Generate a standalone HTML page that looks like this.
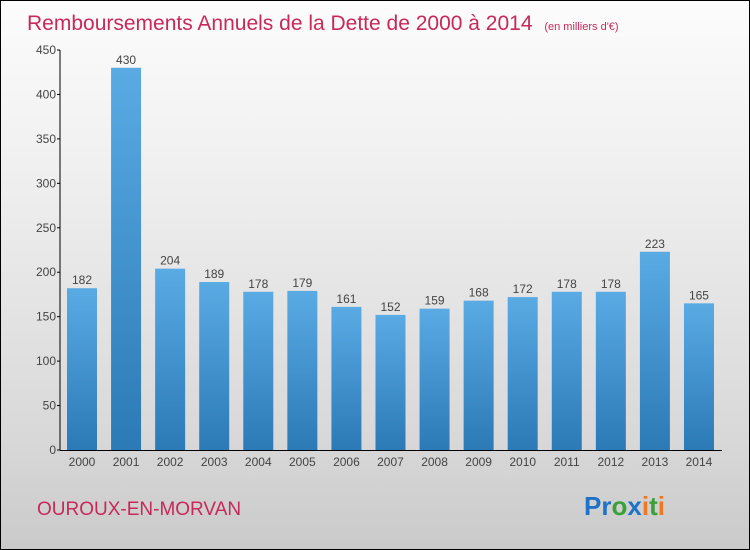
<!DOCTYPE html>
<html><head><meta charset="utf-8"><style>
body{margin:0}
#c{position:relative;width:748px;height:548px;border:1px solid #000;background:linear-gradient(#fcfcfc,#f0f0f0 30%,#d8d8d8 80%,#cacaca);font-family:"Liberation Sans",sans-serif;overflow:hidden}
</style></head><body>
<div id="c">
<svg id="s" width="748" height="548">
<defs><linearGradient id="g" x1="0" y1="0" x2="0" y2="1"><stop offset="0" stop-color="#5aaae4"/><stop offset="1" stop-color="#2b7ab6"/></linearGradient></defs>
<text x="26" y="29" font-size="21" fill="#c8285a" style="font-weight:300">Remboursements Annuels de la Dette de 2000 à 2014 <tspan font-size="11" dx="6">(en milliers d'€)</tspan></text>
<text x="36" y="514" font-size="19" fill="#c8285a">OUROUX-EN-MORVAN</text>
<text x="583" y="514" font-size="26" font-weight="bold"><tspan fill="#1e73c8">Pr</tspan><tspan fill="#3aa03a">o</tspan><tspan fill="#1e73c8">x</tspan><tspan fill="#f07820">i</tspan><tspan fill="#3aa03a">t</tspan><tspan fill="#f07820">i</tspan></text>
<g id="plot"></g>
</svg>
</div>
<script>
const years=["2000","2001","2002","2003","2004","2005","2006","2007","2008","2009","2010","2011","2012","2013","2014"];
const values=[182,430,204,189,178,179,161,152,159,168,172,178,178,223,165];
const ticks=[0,50,100,150,200,250,300,350,400,450];
const NS="http://www.w3.org/2000/svg";
const g=document.getElementById('plot');
const y0=449,yTop=49,maxV=450,x0=59,step=44.07,bw=30,first=66;
const Y=v=>y0-(v/maxV)*(y0-yTop);
const X=i=>first+i*step;
function mk(t,a){const e=document.createElementNS(NS,t);for(const k in a)e.setAttribute(k,a[k]);g.appendChild(e);return e;}
ticks.forEach(t=>{
 const l=mk('line',{x1:x0-3,x2:x0,y1:Y(t),y2:Y(t),stroke:'#000'});
 
 
 const tx=mk('text',{x:x0-4,y:Y(t)+4,'font-size':12,fill:'#444','text-anchor':'end'});
 tx.textContent=t;
 
 
});
values.forEach((v,i)=>{
 const r=mk('rect',{x:X(i),y:Y(v),width:bw,height:y0-Y(v),fill:'url(#g)'});
 
 
 const t=mk('text',{x:X(i)+bw/2,y:Y(v)-4,'font-size':12,fill:'#444','text-anchor':'middle'});
 t.textContent=v;
 
 
 const xl=mk('text',{x:X(i)+bw/2,y:y0+16,'font-size':12,fill:'#444','text-anchor':'middle'});
 xl.textContent=years[i];
 
 
});
const ya=mk('line',{x1:x0,x2:x0,y1:yTop,y2:y0,stroke:'#000'});


const xa=mk('line',{x1:x0,x2:721,y1:y0+0.5,y2:y0+0.5,stroke:'#000'});


</script>
</body></html>
